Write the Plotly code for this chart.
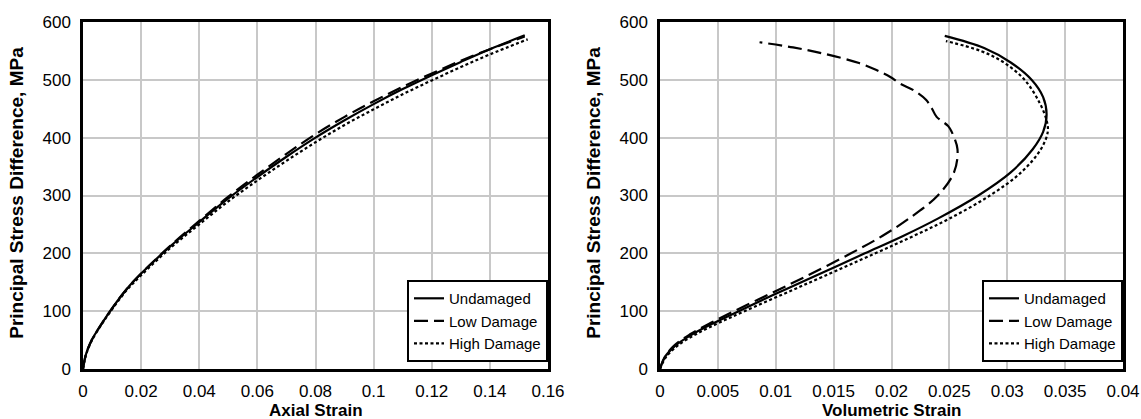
import plotly.graph_objects as go

# ---- data: axial strain vs principal stress difference ----
ax_und_e = [0, 0.001, 0.003, 0.006, 0.01, 0.015, 0.02, 0.03, 0.04, 0.05, 0.06, 0.07, 0.08, 0.09, 0.10, 0.11, 0.12, 0.13, 0.14, 0.152]
ax_und_s = [0, 25, 50, 75, 105, 138, 165, 212, 254, 295, 332, 367, 400, 430, 458, 484, 508, 531, 553, 577]
ax_low_e = [0, 0.001, 0.003, 0.006, 0.01, 0.015, 0.02, 0.03, 0.04, 0.05, 0.06, 0.07, 0.08, 0.09, 0.10, 0.11, 0.12, 0.13, 0.14, 0.152]
ax_low_s = [0, 25, 50, 75, 105, 138, 165, 213, 256, 298, 336, 372, 406, 436, 463, 488, 511, 533, 553, 575]
ax_high_e = [0, 0.001, 0.003, 0.006, 0.01, 0.015, 0.02, 0.03, 0.04, 0.05, 0.06, 0.07, 0.08, 0.09, 0.10, 0.11, 0.12, 0.13, 0.14, 0.153]
ax_high_s = [0, 24, 49, 74, 103, 136, 162, 209, 250, 290, 326, 360, 392, 422, 449, 475, 499, 522, 544, 570]

# ---- data: volumetric strain vs principal stress difference ----
vol_und_s = [0, 20, 40, 60, 80, 100, 130, 160, 200, 230, 260, 300, 340, 380, 410, 440, 470, 500, 530, 555, 576]
vol_und_v = [0, 0.0004, 0.0013, 0.0028, 0.0047, 0.0068, 0.0100, 0.0133, 0.0177, 0.0210, 0.0240, 0.0275, 0.0303, 0.0322, 0.0331, 0.0334, 0.0331, 0.0321, 0.0303, 0.0280, 0.0246]
vol_low_s = [0, 20, 40, 60, 80, 100, 130, 160, 200, 230, 260, 300, 340, 380, 410, 420, 436, 450, 465, 482, 494, 505, 517, 529, 545, 556, 565]
vol_low_v = [0, 0.0004, 0.0012, 0.0026, 0.0044, 0.0064, 0.0095, 0.0126, 0.0165, 0.0192, 0.0215, 0.0240, 0.0254, 0.0257, 0.0252, 0.0249, 0.0239, 0.0235, 0.0230, 0.0219, 0.0207, 0.0199, 0.0187, 0.0172, 0.0142, 0.0115, 0.0086]
vol_high_s = [0, 20, 40, 60, 80, 100, 130, 160, 200, 230, 260, 300, 340, 380, 410, 430, 460, 500, 530, 550, 567]
vol_high_v = [0, 0.0005, 0.0015, 0.0031, 0.0051, 0.0073, 0.0107, 0.0141, 0.0186, 0.0219, 0.0250, 0.0285, 0.0312, 0.0329, 0.0335, 0.0334, 0.0328, 0.0315, 0.0297, 0.0277, 0.0247]

names = ["Undamaged", "Low Damage", "High Damage"]
dashes = ["solid", "14px,6px", "3px,2.5px"]

fig = go.Figure()
left = [(ax_und_e, ax_und_s), (ax_low_e, ax_low_s), (ax_high_e, ax_high_s)]
right = [(vol_und_v, vol_und_s), (vol_low_v, vol_low_s), (vol_high_v, vol_high_s)]
for (x, y), n, d in zip(left, names, dashes):
    fig.add_trace(go.Scatter(x=x, y=y, mode="lines", name=n, line=dict(color="black", width=2.2, dash=d, shape="spline"),
                             xaxis="x", yaxis="y", legend="legend"))
for (x, y), n, d in zip(right, names, dashes):
    fig.add_trace(go.Scatter(x=x, y=y, mode="lines", name=n, line=dict(color="black", width=2.2, dash=d, shape="spline"),
                             xaxis="x2", yaxis="y2", legend="legend2"))

W, H = 1141, 419
axcommon = dict(showgrid=True, gridcolor="#c8c8c8", gridwidth=1.5, zeroline=False,
                showline=True, linecolor="black", linewidth=2.5, mirror=True,
                ticks="outside", tickcolor="rgba(0,0,0,0)", automargin=False,
                tickfont=dict(family="Liberation Sans, Arial", size=17, color="black"))

legfont = dict(family="Liberation Sans, Arial", size=15, color="black")
fig.update_layout(
    width=W, height=H,
    margin=dict(l=0, r=0, t=22, b=50),
    paper_bgcolor="white", plot_bgcolor="white",
    xaxis=dict(domain=[83 / W, 548 / W], range=[0, 0.16], dtick=0.02, anchor="y", ticklen=5, **axcommon),
    yaxis=dict(domain=[0, 1], range=[0, 600], dtick=100, anchor="x", ticklen=6, **axcommon),
    xaxis2=dict(domain=[660 / W, 1123 / W], range=[0, 0.04], dtick=0.005, anchor="y2", ticklen=5, **axcommon),
    yaxis2=dict(domain=[0, 1], range=[0, 600], dtick=100, anchor="x2", ticklen=6, **axcommon),
    legend=dict(x=548 / W, y=0.02, xanchor="right", yanchor="bottom", bgcolor="white",
                bordercolor="black", borderwidth=2, font=legfont, tracegroupgap=0),
    legend2=dict(x=1123 / W, y=0.02, xanchor="right", yanchor="bottom", bgcolor="white",
                 bordercolor="black", borderwidth=2, font=legfont, tracegroupgap=0),
    showlegend=True,
)

xf = dict(family="Liberation Sans, Arial", size=17, color="black")
yf = dict(family="Liberation Sans, Arial", size=19, color="black")
ann = [
    dict(text="<b>Axial Strain</b>", x=(83 + 548) / 2 / W, y=-0.119, xref="paper", yref="paper",
         xanchor="center", yanchor="middle", showarrow=False, font=xf),
    dict(text="<b>Volumetric Strain</b>", x=(660 + 1123) / 2 / W, y=-0.119, xref="paper", yref="paper",
         xanchor="center", yanchor="middle", showarrow=False, font=xf),
    dict(text="<b>Principal Stress Difference, MPa</b>", x=17 / W, y=0.508, xref="paper", yref="paper",
         xanchor="center", yanchor="middle", showarrow=False, textangle=-90, font=yf),
    dict(text="<b>Principal Stress Difference, MPa</b>", x=594 / W, y=0.508, xref="paper", yref="paper",
         xanchor="center", yanchor="middle", showarrow=False, textangle=-90, font=yf),
]
fig.update_layout(annotations=ann)

fig.write_html("out.html")
